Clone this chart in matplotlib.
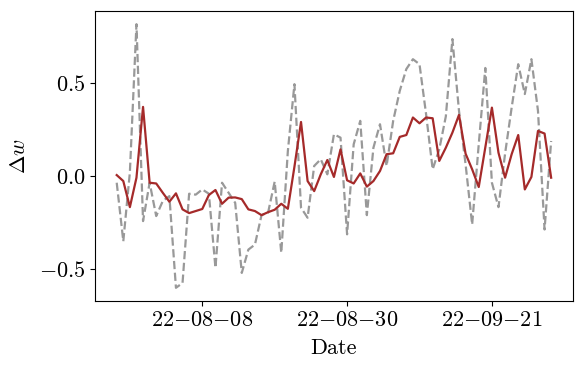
import matplotlib
matplotlib.use('Agg')
import matplotlib.pyplot as plt
import matplotlib.dates as mdates
import matplotlib.ticker as mticker
import numpy as np
import pandas as pd

# daily values, 2022-07-26 .. 2022-09-30
start_date = '2022-07-26'
n_days = 67

# dashed grey series (raw)
raw_dw = [-0.036, -0.35, 0.02, 0.815, -0.242, -0.036,
          -0.215, -0.134, -0.108, -0.60, -0.574, -0.095, -0.10, -0.072, -0.095, -0.493,
          -0.036, -0.09, -0.144, -0.52, -0.395, -0.368, -0.21, -0.196, -0.03, -0.412,
          0.134, 0.493, -0.17, -0.224, 0.054, 0.09, 0.009, 0.224, 0.206, -0.313, 0.17,
          0.296, -0.21, 0.152, 0.278, 0.054, 0.296, 0.457, 0.574, 0.627, 0.60,
          0.332, 0.036, 0.143, 0.32, 0.735, 0.35, 0.063, -0.26, 0.17, 0.58,
          -0.036, -0.167, 0.12, 0.367, 0.60, 0.44, 0.627, 0.35, -0.287, 0.188]

# solid red series (smoothed)
smooth_dw = [0.005, -0.027, -0.167, -0.009, 0.371, -0.036,
             -0.04, -0.09, -0.138, -0.093, -0.179, -0.199, -0.188, -0.177, -0.102, -0.075,
             -0.149, -0.116, -0.115, -0.124, -0.179, -0.188, -0.21, -0.194, -0.181, -0.149,
             -0.176, 0.05, 0.29, -0.027, -0.081, 0.009, 0.086, -0.005, 0.143, -0.023, -0.04,
             0.014, -0.057, -0.027, 0.027, 0.117, 0.122, 0.21, 0.22, 0.314, 0.283,
             0.314, 0.31, 0.081, 0.152, 0.233, 0.328, 0.12, 0.036, -0.059, 0.154,
             0.367, 0.125, -0.009, 0.117, 0.22, -0.072, -0.005, 0.242, 0.228, -0.009]

tick_dates = ['2022-08-08', '2022-08-30', '2022-09-21']
y_ticks = [-0.5, 0.0, 0.5]

dates = pd.date_range(start_date, periods=n_days, freq='D')

plt.rcParams['font.family'] = 'cmr10'
plt.rcParams['mathtext.fontset'] = 'cm'
plt.rcParams['axes.unicode_minus'] = True
plt.rcParams['font.size'] = 16

fig = plt.figure(figsize=(5.81, 3.71), dpi=100)
ax = fig.add_axes([0.1635, 0.1887, 0.8225, 0.7817])

ax.plot(dates, raw_dw, ls='--', lw=1.6, c='#999999', zorder=2)
ax.plot(dates, smooth_dw, ls='-', lw=1.6, c='#a52a2a', zorder=3)

ax.set_xticks(pd.to_datetime(tick_dates))
ax.xaxis.set_major_formatter(mdates.DateFormatter(r'$%y{-}%m{-}%d$'))
ax.set_yticks(y_ticks)
ax.yaxis.set_major_formatter(mticker.FormatStrFormatter(r'$%.1f$'))

ax.set_xlabel('Date', labelpad=6)
ax.set_ylabel(r'$\Delta w$', labelpad=7)

fig.savefig('out.png', dpi=100)
